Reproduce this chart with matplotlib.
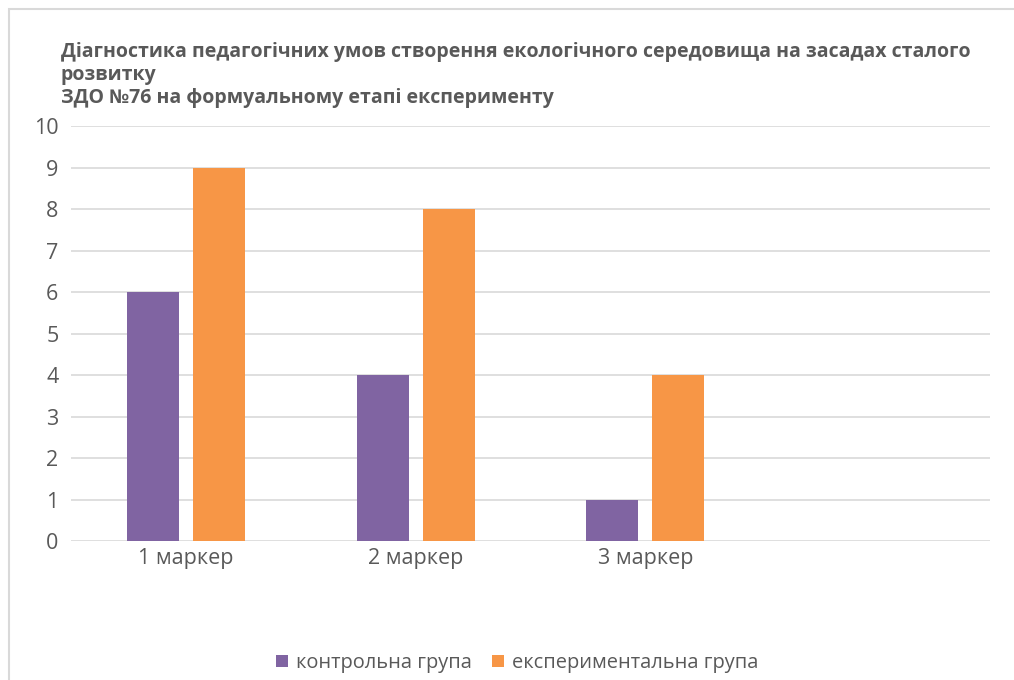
import matplotlib.pyplot as plt
import matplotlib.patches as mpatches
import numpy as np

# chart data
categories = ['1 маркер', '2 маркер', '3 маркер']
control = [6, 4, 1]
experimental = [9, 8, 4]
series_names = ['контрольна група', 'експериментальна група']
title = ('Діагностика педагогічних умов створення екологічного середовища на засадах сталого\n'
         'розвитку\n'
         'ЗДО №76 на формуальному етапі експерименту')

plt.rcParams['font.family'] = ['Open Sans', 'DejaVu Sans']

fig = plt.figure(figsize=(10.14, 6.8), dpi=100)
ax = fig.add_axes([0.0700, 0.2044, 0.9063, 0.6103])

# outer chart border (light grey), cut at right/bottom like the screenshot
fig.patches.append(mpatches.Rectangle((9 / 1014, -0.05), 1.1, 1 - 9 / 680 + 0.05,
                                      transform=fig.transFigure, fill=False,
                                      edgecolor='#D9D9D9', linewidth=1.5, zorder=0))

x = np.arange(len(categories))
w = 0.226
off = 0.1436
ax.bar(x - off, control, w, color='#8064A2', label=series_names[0], zorder=3)
ax.bar(x + off, experimental, w, color='#F79646', label=series_names[1], zorder=3)

ax.set_xlim(-0.5, 3.5)
ax.set_ylim(0, 10)
ax.set_yticks(range(0, 11))
ax.set_xticks(x)
ax.set_xticklabels(categories)
ax.tick_params(axis='both', length=0, labelsize=15.5, colors='#595959')
ax.tick_params(axis='x', pad=5)
ax.tick_params(axis='y', pad=9)
ax.grid(axis='y', color='#D9D9D9', linewidth=1.2, zorder=0)
for s in ax.spines.values():
    s.set_visible(False)

fig.text(61 / 1014, 1 - 42 / 680, title, ha='left', va='top', fontsize=14,
         fontweight='bold', color='#595959', linespacing=1.2)

fig.legend(loc='center', bbox_to_anchor=(0.51, 1 - 663 / 680), ncol=2, frameon=False,
           fontsize=14.4, labelcolor='#595959', handlelength=0.6, handleheight=0.6,
           handletextpad=0.4, columnspacing=1.0)

fig.savefig('out.png', dpi=100)
